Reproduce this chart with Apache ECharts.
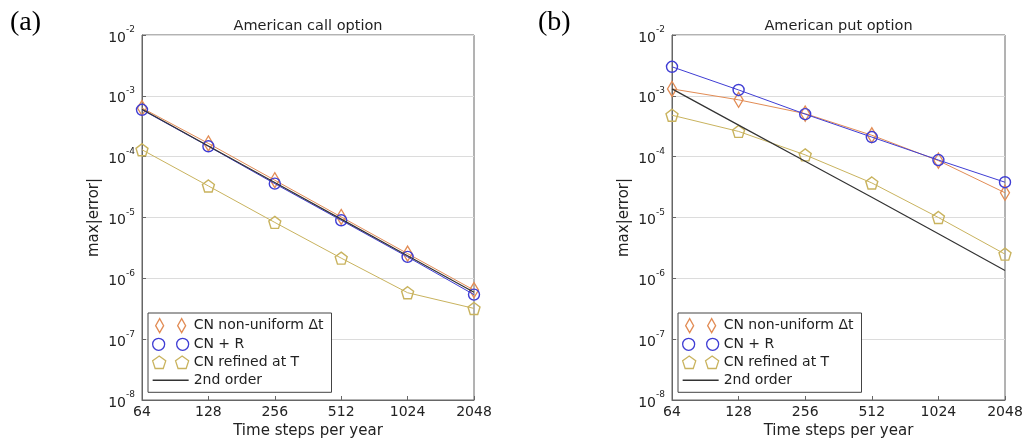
<!DOCTYPE html>
<html>
<head>
<meta charset="utf-8">
<script src="https://cdn.jsdelivr.net/npm/echarts@6/dist/echarts.min.js"></script>
<style>
html,body{margin:0;padding:0;background:#fff;}
#chart{width:1027px;height:446px;}
</style>
</head>
<body>
<div id="chart"></div>
<script>
// ---- data ----
const steps = [64, 128, 256, 512, 1024, 2048];
const seriesNames = ['CN non-uniform \u0394t', 'CN + R', 'CN refined at T', '2nd order'];
const panelTitles = ['American call option', 'American put option'];
const panelLetters = ['(a)', '(b)'];
const xAxisTitle = 'Time steps per year';
const yAxisTitle = 'max|error|';

const callNonUniform = [6.3e-4, 1.65e-4, 4.1e-5, 1.02e-5, 2.55e-6, 6.4e-7];
const callCNR        = [5.9e-4, 1.48e-4, 3.6e-5, 9.0e-6, 2.25e-6, 5.4e-7];
const callRefined    = [1.3e-4, 3.3e-5, 8.3e-6, 2.15e-6, 5.8e-7, 3.2e-7];
const call2nd        = [6.0e-4, 1.5e-4, 3.75e-5, 9.4e-6, 2.35e-6, 5.9e-7];

const putNonUniform  = [1.3e-3, 8.6e-4, 5.1e-4, 2.25e-4, 8.6e-5, 2.55e-5];
const putCNR         = [3.0e-3, 1.25e-3, 5.0e-4, 2.1e-4, 8.8e-5, 3.8e-5];
const putRefined     = [4.8e-4, 2.6e-4, 1.07e-4, 3.7e-5, 1.0e-5, 2.5e-6];
const put2nd         = [1.3e-3, 3.3e-4, 8.4e-5, 2.15e-5, 5.4e-6, 1.35e-6];

// ---- styles ----
const FONT = 'DejaVu Sans';
const colors = ['#e28c55', '#3f3dd4', '#c9b35e', '#333333'];
const pentagon = 'path://M10,0 L19.51,6.91 L15.88,18.09 L4.12,18.09 L0.49,6.91 Z';
const symbols = ['diamond', 'circle', pentagon, 'none'];
const symbolSizes = [[9, 15], 11, 12, 0];
const legendIcons = [
  'path://M4,0 L8,7 L4,14 L0,7 Z M26,0 L30,7 L26,14 L22,7 Z',
  'path://M0,7 A5,5 0 1,1 10,7 A5,5 0 1,1 0,7 Z M20,7 A5,5 0 1,1 30,7 A5,5 0 1,1 20,7 Z',
  'path://M6,0 L11.71,4.15 L9.53,10.85 L2.47,10.85 L0.29,4.15 Z M26,0 L31.71,4.15 L29.53,10.85 L22.47,10.85 L20.29,4.15 Z',
  'path://M0,0 L30,0 L30,1.3 L0,1.3 Z'
];

const panels = [
  {left: 142, width: 332, data: [callNonUniform, callCNR, callRefined, call2nd], legendLeft: 148, letterX: 10},
  {left: 672, width: 333, data: [putNonUniform, putCNR, putRefined, put2nd], legendLeft: 678, letterX: 538}
];
const TOP = 35, HEIGHT = 365;

function toPairs(vals) { return steps.map((s, i) => [s, vals[i]]); }

const grids = [], xAxes = [], yAxes = [], series = [], legends = [], graphics = [];

panels.forEach((p, pi) => {
  grids.push({left: p.left, top: TOP, width: p.width, height: HEIGHT, show: true,
    borderColor: '#666', borderWidth: 1, backgroundColor: 'transparent'});
  xAxes.push({
    type: 'log', logBase: 2, min: 64, max: 2048, gridIndex: pi,
    name: xAxisTitle, nameLocation: 'middle', nameGap: 24,
    nameTextStyle: {fontFamily: FONT, fontSize: 15, color: '#222'},
    axisLine: {show: true, lineStyle: {color: '#666', width: 1}},
    axisTick: {show: true, inside: true, length: 4, lineStyle: {color: '#666'}},
    minorTick: {show: false},
    splitLine: {show: false},
    axisLabel: {fontFamily: FONT, fontSize: 14, color: '#222', margin: 5,
      formatter: v => String(Math.round(v))}
  });
  yAxes.push({
    type: 'log', logBase: 10, min: 1e-8, max: 1e-2, gridIndex: pi,
    name: yAxisTitle, nameLocation: 'middle', nameGap: 40,
    nameTextStyle: {fontFamily: FONT, fontSize: 15, color: '#222'},
    axisLine: {show: true, lineStyle: {color: '#666', width: 1}},
    axisTick: {show: true, inside: true, length: 4, lineStyle: {color: '#666'}},
    splitLine: {show: true, lineStyle: {color: '#dcdcdc', width: 1}},
    axisLabel: {
      margin: 7,
      formatter: v => '{b|10}{s|' + Math.round(Math.log10(v)) + '}',
      rich: {
        b: {fontFamily: FONT, fontSize: 14, color: '#222', padding: [6, 0, 0, 0]},
        s: {fontFamily: FONT, fontSize: 9, color: '#222', padding: [0, 0, 10, 0]}
      }
    }
  });
  p.data.forEach((vals, si) => {
    const isLine = si === 3;
    series.push({
      type: 'line', name: seriesNames[si], xAxisIndex: pi, yAxisIndex: pi,
      data: toPairs(vals),
      symbol: symbols[si], symbolSize: symbolSizes[si], showSymbol: !isLine,
      lineStyle: {color: colors[si], width: isLine ? 1.2 : 1},
      itemStyle: {color: 'rgba(0,0,0,0)', borderColor: colors[si], borderWidth: 1.4},
      emphasis: {disabled: true},
      z: 2 + si
    });
  });
  legends.push({
    orient: 'vertical', left: p.legendLeft, top: 313,
    padding: [5, 8, 5, 4], itemGap: 4, itemWidth: 36, itemHeight: 14,
    borderColor: '#444', borderWidth: 1, backgroundColor: '#fff',
    selectedMode: false,
    textStyle: {fontFamily: FONT, fontSize: 14, color: '#222'},
    data: seriesNames.map((n, i) => ({
      name: n, icon: legendIcons[i],
      itemStyle: i === 3
        ? {color: colors[3], borderWidth: 0}
        : {color: 'rgba(0,0,0,0)', borderColor: colors[i], borderWidth: 1.3}
    }))
  });
  graphics.push({type: 'text', x: p.left + p.width / 2, y: 26,
    style: {text: panelTitles[pi], fontFamily: FONT, fontSize: 14.5, fill: '#222',
      align: 'center', verticalAlign: 'middle'}});
  graphics.push({type: 'text', left: p.letterX, top: 9,
    style: {text: panelLetters[pi], fontFamily: 'Liberation Serif', fontSize: 28, fill: '#000'}});
});

const chart = echarts.init(document.getElementById('chart'), null, {renderer: 'canvas'});
chart.setOption({
  animation: false,
  backgroundColor: '#fff',
  grid: grids, xAxis: xAxes, yAxis: yAxes, series: series, legend: legends,
  graphic: graphics
});
</script>
</body>
</html>
